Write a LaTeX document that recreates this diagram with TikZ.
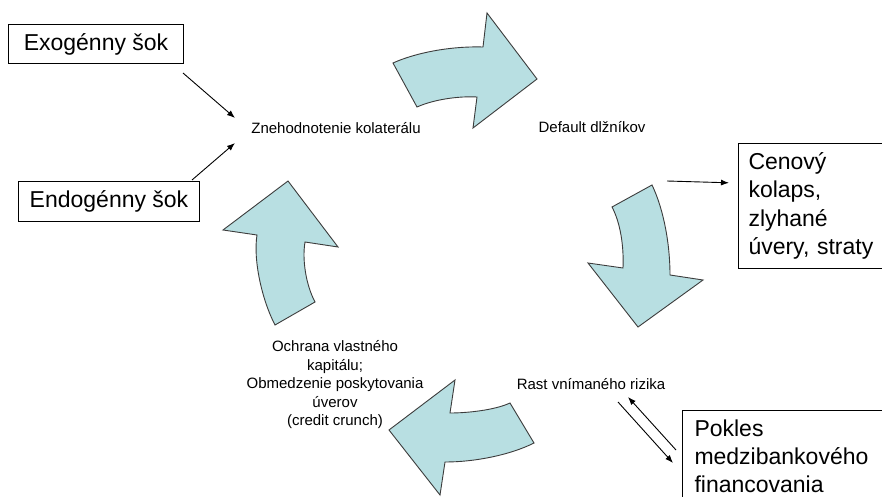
\documentclass[tikz,border=0pt]{standalone}
\usepackage{fontspec}
\setmainfont{Liberation Sans}
\usetikzlibrary{arrows.meta,calc}
\definecolor{arrowfill}{RGB}{184,223,226}
\definecolor{arrowline}{RGB}{60,60,60}
\tikzset{
  bigarrow/.style={fill=arrowfill,draw=arrowline,line width=0.9pt,line join=miter},
  bigbox/.style={draw=black,line width=1pt,inner xsep=10pt,inner ysep=8pt,font=\fontsize{23}{28.3}\selectfont,align=left},
  smalltxt/.style={inner sep=0pt,font=\fontsize{15}{18.5}\selectfont,align=center},
  conn/.style={draw=black,line width=0.9pt,-{Latex[length=8pt,width=6pt]}}
}
\begin{document}
\begin{tikzpicture}[x=1pt,y=-1pt]
\useasboundingbox (0,0) rectangle (882,497);
\clip (0,0) rectangle (882,497);
\fill[white] (0,0) rectangle (882,497);

% curved block arrows
\draw[bigarrow] (393,63) .. controls (415,53) and (450,46) .. (483,47) -- (487,13) -- (537,79) -- (473,128) -- (477,97) .. controls (460,96) and (435,99) .. (417,107) -- cycle;
\draw[bigarrow] (612,207) -- (652,185) .. controls (664,210) and (670,245) .. (670,275) -- (703,280) -- (638,327) -- (588,263) -- (623,268) .. controls (624,245) and (620,222) .. (612,207) -- cycle;
\draw[bigarrow] (510,403) -- (534,443) .. controls (510,455) and (475,462) .. (445,462) -- (440,495) -- (389,430) -- (455,380) -- (450,413) .. controls (468,413) and (495,410) .. (510,403) -- cycle;
\draw[bigarrow] (275,325) -- (315,302) .. controls (306,285) and (302,260) .. (305,242) -- (338,247) -- (288,181) -- (223,230) -- (257,235) .. controls (253,260) and (262,300) .. (275,325) -- cycle;

% text nodes
\node[smalltxt] (znehod) at (336,128) {Znehodnotenie kolaterálu};
\node[smalltxt] (default) at (592,127) {Default dlžníkov};
\node[smalltxt] (rast) at (591,384) {Rast vnímaného rizika};
\node[smalltxt] (ochrana) at (335,385) {Ochrana vlastného\\kapitálu;\\Obmedzenie poskytovania\\úverov\\(credit crunch)};

% boxes
\node[bigbox,minimum width=175pt,minimum height=39pt,inner xsep=8pt,inner ysep=4pt,anchor=north west] (exo) at (8,24) {Exogénny šok};
\node[bigbox,minimum width=181pt,minimum height=40pt,inner xsep=8pt,inner ysep=4pt,anchor=north west] (endo) at (18,181) {Endogénny šok};
\node[bigbox,anchor=north west,text width=140pt,inner ysep=9pt] (cen) at (738,143) {Cenový\\kolaps,\\zlyhané\\úvery, straty};
\node[bigbox,anchor=north west,text width=200pt,inner xsep=12pt,inner ysep=9pt] (pokles) at (682,410) {Pokles\\medzibankového\\financovania};

% connector end points
\coordinate (zin1) at (235,118);
\coordinate (zin2) at (235,143);
\coordinate (cenout) at (667,181);
\coordinate (rastA) at (628,397);
\coordinate (rastB) at (618,402);
\coordinate (poklA) at (676,450);
\coordinate (poklB) at (673,463);

\draw[conn] ($(exo.south east)+(-1,9)$) -- (zin1);
\draw[conn] ($(endo.north)+(83,-1)$) -- (zin2);
\draw[conn] (cenout) -- ($(cen.west)+(-9,-23)$);
\draw[conn] (poklA) -- (rastA);
\draw[conn] (rastB) -- (poklB);
\end{tikzpicture}
\end{document}
